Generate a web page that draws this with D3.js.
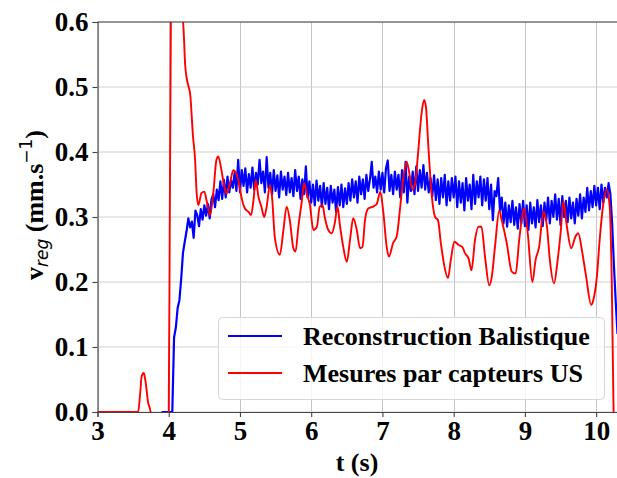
<!DOCTYPE html>
<html><head><meta charset="utf-8">
<script src="https://cdn.jsdelivr.net/npm/d3@7"></script>
<style>body{margin:0;background:#fff}svg{display:block}</style>
</head><body>
<script>
// ---- DATA ----
const xTicks = [3,4,5,6,7,8,9,10];
const yTicks = [0.0,0.1,0.2,0.3,0.4,0.5,0.6];
const seriesNames = ["Reconstruction Balistique","Mesures par capteurs US"];

// Blue: uniformly sampled from t = 3.900 s, step 0.025 s
const blueStart = 3.9, blueStep = 0.025;
const blueV = [
 0,0,0,0,
 0,0,0,0.115,0.13,0.16,0.172,0.205,0.245,0.262,
 0.278,0.298,0.284,0.293,0.268,0.31,0.303,0.286,0.312,0.296,
 0.318,0.302,0.32,0.298,0.327,0.335,0.315,0.342,0.326,0.355,
 0.328,0.357,0.33,0.362,0.338,0.356,0.345,0.368,0.34,0.388,
 0.338,0.372,0.348,0.375,0.338,0.366,0.345,0.376,0.342,0.368,
 0.35,0.388,0.352,0.37,0.338,0.392,0.345,0.368,0.335,0.372,
 0.34,0.364,0.33,0.37,0.342,0.362,0.334,0.368,0.338,0.36,
 0.332,0.372,0.34,0.362,0.328,0.358,0.335,0.378,0.33,0.355,
 0.322,0.35,0.318,0.356,0.325,0.348,0.316,0.352,0.32,0.345,
 0.312,0.348,0.322,0.342,0.308,0.346,0.318,0.35,0.315,0.344,
 0.32,0.352,0.325,0.358,0.33,0.355,0.322,0.362,0.335,0.358,
 0.328,0.365,0.34,0.358,0.385,0.345,0.362,0.338,0.37,0.342,
 0.368,0.338,0.375,0.387,0.34,0.365,0.335,0.37,0.342,0.365,
 0.33,0.372,0.338,0.385,0.322,0.362,0.34,0.37,0.335,0.378,
 0.34,0.372,0.345,0.38,0.342,0.368,0.338,0.36,0.332,0.364,
 0.326,0.358,0.32,0.36,0.33,0.365,0.318,0.355,0.325,0.36,
 0.33,0.362,0.315,0.355,0.322,0.352,0.31,0.36,0.325,0.35,
 0.312,0.365,0.32,0.355,0.33,0.362,0.318,0.358,0.325,0.36,
 0.312,0.35,0.295,0.34,0.332,0.36,0.31,0.33,0.29,0.322,
 0.285,0.318,0.292,0.325,0.288,0.315,0.282,0.32,0.29,0.325,
 0.286,0.318,0.28,0.322,0.29,0.315,0.284,0.326,0.292,0.318,
 0.286,0.322,0.295,0.33,0.29,0.325,0.3,0.335,0.296,0.328,
 0.288,0.332,0.3,0.325,0.292,0.33,0.298,0.322,0.29,0.328,
 0.302,0.335,0.298,0.33,0.308,0.345,0.31,0.34,0.315,0.348,
 0.318,0.345,0.312,0.35,0.322,0.345,0.33,0.352,0.335,0.29,
 0.225,0.17,0.12
];

const redT = [3.00,3.57,3.60,3.62,3.65,3.67,3.71,3.745,3.76,3.98,4.00,4.015,4.03,4.05,4.10,4.15,4.19,4.21,4.23,4.25,4.28,4.30,4.34,4.37,4.39,4.415,4.46,4.50,4.53,4.58,4.625,4.67,4.695,4.74,4.78,4.81,4.86,4.906,4.95,4.986,5.02,5.07,5.12,5.155,5.19,5.22,5.26,5.30,5.34,5.375,5.42,5.45,5.49,5.56,5.61,5.655,5.70,5.75,5.78,5.82,5.87,5.90,5.94,5.98,6.03,6.08,6.12,6.16,6.19,6.24,6.29,6.33,6.37,6.40,6.45,6.50,6.545,6.59,6.64,6.685,6.72,6.755,6.80,6.87,6.92,6.97,7.01,7.06,7.09,7.15,7.20,7.25,7.29,7.34,7.37,7.42,7.46,7.50,7.55,7.585,7.61,7.645,7.69,7.74,7.78,7.82,7.87,7.92,7.96,8.01,8.07,8.12,8.16,8.21,8.25,8.30,8.35,8.39,8.44,8.50,8.535,8.58,8.64,8.675,8.745,8.815,8.87,8.92,8.96,8.99,9.04,9.105,9.15,9.20,9.26,9.31,9.35,9.41,9.46,9.505,9.54,9.59,9.65,9.71,9.75,9.80,9.86,9.93,9.96,10.01,10.05,10.10,10.15,10.19,10.22,10.245,10.26];
const redV = [0,0,0.03,0.055,0.06,0.05,0.015,0,-0.05,-0.05,0,0.3,0.6,0.8,0.9,0.75,0.62,0.585,0.535,0.515,0.5,0.49,0.425,0.388,0.34,0.318,0.337,0.339,0.326,0.303,0.336,0.388,0.393,0.372,0.347,0.336,0.352,0.372,0.367,0.352,0.331,0.313,0.308,0.303,0.326,0.357,0.331,0.316,0.30,0.316,0.349,0.331,0.268,0.242,0.28,0.316,0.295,0.252,0.247,0.285,0.326,0.352,0.334,0.32,0.28,0.285,0.316,0.318,0.30,0.28,0.275,0.29,0.316,0.29,0.254,0.231,0.265,0.298,0.28,0.252,0.254,0.295,0.313,0.316,0.32,0.339,0.31,0.254,0.239,0.26,0.27,0.316,0.357,0.385,0.372,0.342,0.352,0.398,0.46,0.48,0.47,0.408,0.336,0.30,0.295,0.26,0.224,0.206,0.234,0.262,0.257,0.254,0.244,0.236,0.218,0.265,0.285,0.285,0.239,0.195,0.208,0.254,0.31,0.295,0.26,0.216,0.213,0.265,0.30,0.313,0.275,0.20,0.234,0.254,0.308,0.285,0.234,0.198,0.234,0.28,0.324,0.285,0.252,0.27,0.275,0.249,0.208,0.165,0.172,0.208,0.265,0.32,0.342,0.316,0.198,0,-0.05];

// ---- CHART ----
const W = 617, H = 478;
const m = {left: 97.5, right: 617.5, top: 22, bottom: 412};
const x = d3.scaleLinear().domain([3, 10.3]).range([m.left, m.right]);
const y = d3.scaleLinear().domain([0, 0.6]).range([m.bottom, m.top]);
const serif = "'Liberation Serif','Times New Roman',serif";

const svg = d3.select("body").append("svg").attr("width", W).attr("height", H);
svg.append("defs").append("clipPath").attr("id","clip")
  .append("rect").attr("x", m.left).attr("y", m.top)
  .attr("width", m.right - m.left).attr("height", m.bottom - m.top);

// grid
const g = svg.append("g");
g.selectAll(".vg").data(xTicks).join("line")
  .attr("x1", d => Math.round(x(d)) + 0.5).attr("x2", d => Math.round(x(d)) + 0.5)
  .attr("y1", m.top).attr("y2", m.bottom)
  .attr("stroke", "#c4c4c4").attr("stroke-width", 1);
g.selectAll(".hg").data(yTicks).join("line")
  .attr("y1", d => y(d)).attr("y2", d => y(d))
  .attr("x1", m.left).attr("x2", m.right)
  .attr("stroke", "#cfcfcf").attr("stroke-width", 1.2);

// lines
const blueData = blueV.map((v, i) => [blueStart + i * blueStep, v]);
const redData = redT.map((t, i) => [t, redV[i]]);
const lineB = d3.line().x(d => x(d[0])).y(d => y(d[1]));
const lineR = d3.line().x(d => x(d[0])).y(d => y(d[1])).curve(d3.curveMonotoneX);
const plot = svg.append("g").attr("clip-path", "url(#clip)");
plot.append("path").datum(blueData).attr("d", lineB)
  .attr("fill","none").attr("stroke","#0000ff").attr("stroke-width",2.2).attr("stroke-linejoin","round");
plot.append("path").datum(redData).attr("d", lineR)
  .attr("fill","none").attr("stroke","#ff0000").attr("stroke-width",1.9).attr("stroke-linejoin","round");

// axes
const xAxis = svg.append("g").attr("transform", `translate(0,${m.bottom})`)
  .call(d3.axisBottom(x).tickValues(xTicks).tickFormat(d3.format("d")).tickSizeOuter(0).tickSize(5).tickPadding(4));
const yAxis = svg.append("g").attr("transform", `translate(${m.left},0)`)
  .call(d3.axisLeft(y).tickValues(yTicks).tickFormat(d3.format(".1f")).tickSizeOuter(0).tickSize(5).tickPadding(4));
[xAxis, yAxis].forEach(a => {
  a.select(".domain").attr("stroke", "#444").attr("stroke-width", 1.1);
  a.selectAll(".tick line").attr("stroke", "#444").attr("stroke-width", 1.1);
  a.selectAll("text").attr("font-family", serif).attr("font-weight", "bold")
    .attr("font-size", 27).attr("fill", "#000");
});
// top spine
svg.append("line").attr("x1", m.left).attr("x2", m.right).attr("y1", m.top).attr("y2", m.top)
  .attr("stroke", "#444").attr("stroke-width", 1.1);

// axis labels
svg.append("text").attr("x", 357).attr("y", 471).attr("text-anchor","middle")
  .attr("font-family", serif).attr("font-weight","bold").attr("font-size",26).text("t (s)");
const yl = svg.append("text").attr("transform","translate(43,205) rotate(-90)")
  .attr("text-anchor","middle").attr("font-family", serif).attr("font-weight","bold").attr("font-size",26);
yl.append("tspan").text("v");
yl.append("tspan").attr("font-family","'DejaVu Sans',sans-serif").attr("font-style","italic")
  .attr("font-weight","normal").attr("font-size",17).attr("dy",5).text("reg");
yl.append("tspan").attr("dy",-5).text(" (mm.s");
yl.append("tspan").attr("font-family","'DejaVu Sans',sans-serif").attr("font-weight","normal")
  .attr("font-size",17).attr("dy",-11).text("\u22121");
yl.append("tspan").attr("dy",11).text(")");

// legend
const lg = svg.append("g");
lg.append("rect").attr("x",218.5).attr("y",317.5).attr("width",386).attr("height",82).attr("rx",4)
  .attr("fill","#fff").attr("fill-opacity",0.8).attr("stroke","#d6d6d6").attr("stroke-width",1);
const colors = ["#0000ff","#ff0000"];
seriesNames.forEach((n, i) => {
  const yy = 336 + i * 37;
  lg.append("line").attr("x1",228).attr("x2",282).attr("y1",yy).attr("y2",yy)
    .attr("stroke",colors[i]).attr("stroke-width",2);
  lg.append("text").attr("x",303).attr("y",yy+9).attr("font-family",serif).attr("font-weight","bold")
    .attr("font-size",26).text(n);
});
</script>
</body></html>
